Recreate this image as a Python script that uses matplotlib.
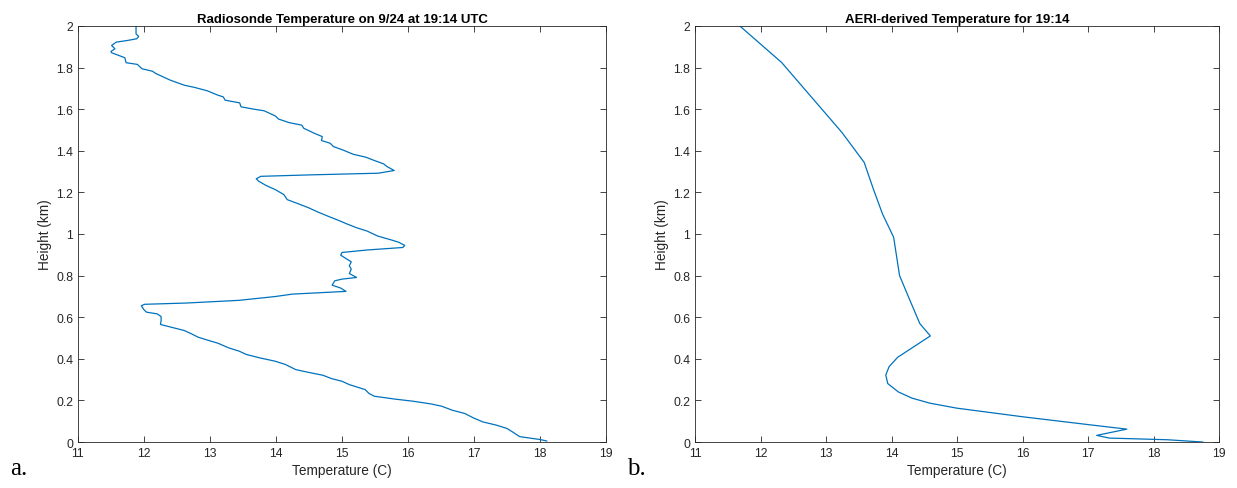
import matplotlib
matplotlib.use("Agg")
import matplotlib.pyplot as plt
from matplotlib.ticker import FuncFormatter

# Radiosonde profile (temperature C, height km)
sonde_temp = [18.10, 18.00, 17.69, 17.58, 17.50, 17.34, 17.13, 16.99, 16.86, 16.67, 16.51,
              16.35, 16.08, 15.81, 15.49, 15.41, 15.35, 15.27, 15.11, 15.00, 14.84, 14.71,
              14.52, 14.30, 14.14, 13.98, 13.76, 13.55, 13.44, 13.28, 13.12, 12.96, 12.82,
              12.72, 12.61, 12.37, 12.25, 12.26, 12.26, 12.20, 12.04, 12.00, 11.96, 12.01,
              12.64, 13.44, 13.98, 14.25, 15.06, 14.98, 14.85, 14.89, 15.00, 15.22, 15.11,
              15.14, 15.11, 15.14, 15.06, 14.98, 15.00, 15.38, 15.92, 15.95, 15.86, 15.76,
              15.54, 15.38, 15.22, 15.06, 14.95, 14.79, 14.63, 14.50, 14.33, 14.17, 14.12,
              13.99, 13.85, 13.74, 13.70, 13.77, 14.52, 15.55, 15.79, 15.68, 15.63, 15.49,
              15.36, 15.17, 15.01, 14.87, 14.82, 14.69, 14.70, 14.58, 14.42, 14.39, 14.20,
              14.04, 13.99, 13.82, 13.66, 13.47, 13.45, 13.23, 13.20, 13.12, 12.96, 12.77,
              12.61, 12.40, 12.18, 12.13, 11.97, 11.90, 11.73, 11.71, 11.62, 11.51, 11.50,
              11.56, 11.51, 11.58, 11.75, 11.89, 11.92, 11.88, 11.88, 11.88]
sonde_height = [0.005, 0.012, 0.026, 0.049, 0.065, 0.081, 0.097, 0.116, 0.137, 0.153, 0.172,
                0.183, 0.196, 0.206, 0.220, 0.233, 0.252, 0.260, 0.276, 0.292, 0.305, 0.321,
                0.333, 0.348, 0.373, 0.389, 0.404, 0.421, 0.437, 0.453, 0.475, 0.490, 0.504,
                0.520, 0.536, 0.555, 0.565, 0.584, 0.603, 0.616, 0.624, 0.636, 0.655, 0.662,
                0.668, 0.681, 0.699, 0.711, 0.724, 0.740, 0.754, 0.775, 0.783, 0.791, 0.810,
                0.831, 0.847, 0.866, 0.882, 0.898, 0.911, 0.923, 0.935, 0.945, 0.960, 0.970,
                0.990, 1.014, 1.030, 1.050, 1.065, 1.085, 1.106, 1.125, 1.146, 1.165, 1.189,
                1.213, 1.233, 1.253, 1.265, 1.277, 1.284, 1.292, 1.305, 1.324, 1.337, 1.353,
                1.369, 1.383, 1.404, 1.420, 1.436, 1.449, 1.468, 1.484, 1.508, 1.523, 1.535,
                1.552, 1.567, 1.592, 1.600, 1.611, 1.630, 1.643, 1.659, 1.667, 1.688, 1.704,
                1.715, 1.739, 1.771, 1.782, 1.794, 1.815, 1.823, 1.847, 1.858, 1.871, 1.877,
                1.890, 1.906, 1.922, 1.930, 1.938, 1.949, 1.962, 1.978, 2.000]

# AERI-derived profile
aeri_temp = [18.75, 18.21, 17.32, 17.13, 17.59, 17.02, 16.01, 14.99, 14.58, 14.31, 14.10,
             13.94, 13.91, 13.96, 14.09, 14.59, 14.43, 14.28, 14.12, 14.03, 13.86, 13.72,
             13.58, 13.24, 12.32, 11.68]
aeri_height = [0.0, 0.011, 0.019, 0.032, 0.062, 0.083, 0.121, 0.163, 0.187, 0.211, 0.241,
               0.281, 0.322, 0.362, 0.407, 0.510, 0.569, 0.680, 0.800, 0.984, 1.096, 1.216,
               1.344, 1.488, 1.824, 2.000]

titles = ["Radiosonde Temperature on 9/24 at 19:14 UTC", "AERI-derived Temperature for 19:14"]
panel_labels = ["a.", "b."]
xticks = [11, 12, 13, 14, 15, 16, 17, 18, 19]
yticks = [0, 0.2, 0.4, 0.6, 0.8, 1.0, 1.2, 1.4, 1.6, 1.8, 2.0]

plt.rcParams['font.family'] = ['Liberation Sans', 'DejaVu Sans']
fig = plt.figure(figsize=(12.37, 4.89), dpi=100)
line_color = (0.0, 0.447, 0.741)
axc = (0.15, 0.15, 0.15)

positions = [[0.063, 0.094, 0.427, 0.851], [0.562, 0.094, 0.4236, 0.851]]
data = [(sonde_temp, sonde_height), (aeri_temp, aeri_height)]
label_x = [0.008, 0.507]

def fmt(v, pos):
    s = ("%.1f" % v).rstrip('0').rstrip('.')
    return s

for i, (pos, (t, h)) in enumerate(zip(positions, data)):
    ax = fig.add_axes(pos)
    ax.plot(t, h, color=line_color, lw=0.9)
    ax.set_xlim(11, 19)
    ax.set_ylim(0, 2)
    ax.set_xticks(xticks)
    ax.set_yticks(yticks)
    ax.yaxis.set_major_formatter(FuncFormatter(fmt))
    ax.tick_params(direction='in', top=True, right=True, length=4, width=0.6,
                   colors=axc, labelsize=8.8, labelcolor=axc)
    for sp in ax.spines.values():
        sp.set_color(axc)
        sp.set_linewidth(0.6)
    ax.set_xlabel("Temperature (C)", fontsize=9.8, color=axc, labelpad=3)
    ax.set_ylabel("Height (km)", fontsize=9.8, color=axc, labelpad=3)
    ax.set_title(titles[i], fontsize=9.5, fontweight='bold', color='black', pad=3)
    fig.text(label_x[i], 0.028, panel_labels[i],
             fontsize=18, family='Liberation Serif', color='black')

fig.savefig("out.png", dpi=100)
